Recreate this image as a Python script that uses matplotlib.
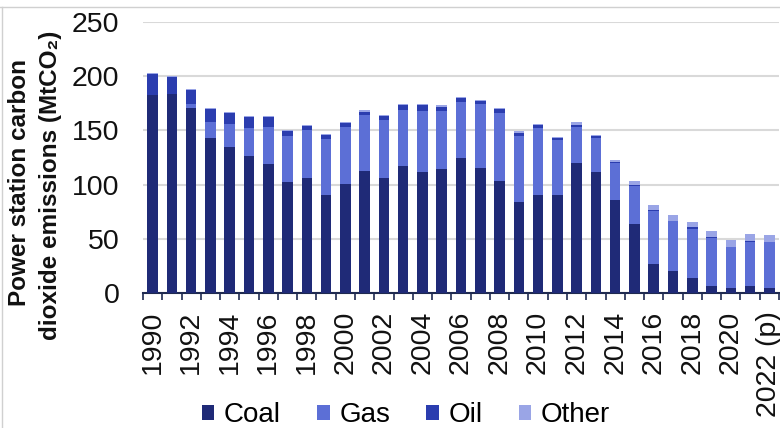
import matplotlib
matplotlib.use("Agg")
import matplotlib.pyplot as plt
import numpy as np

plt.rcParams['font.family'] = ['Liberation Sans', 'DejaVu Sans']

years = [str(y) for y in range(1990, 2022)] + ["2022 (p)"]
coal = [183, 184, 171, 143, 135, 126, 119, 102, 106, 90, 101, 113, 106, 117, 112, 114,
        125, 115, 103, 84, 90, 90, 120, 112, 86, 64, 27, 20, 14, 6, 5, 6, 5]
gas = [0, 0, 3, 15, 21, 26, 34, 43, 44, 52, 52, 51, 54, 52, 56, 54,
       51, 59, 63, 61, 62, 51, 33, 31, 34, 35, 49, 46, 45.5, 45, 37, 41, 42]
oil = [19, 15, 13, 12, 10, 10, 9, 4, 4, 4, 4, 3, 3, 4, 5, 4,
       4, 3, 4, 3, 3, 2, 2, 1.5, 1, 1, 1, 0.6, 1, 1, 0.5, 1, 0.5]
other = [1, 1, 1, 1, 1, 1, 1, 1, 1, 1, 1, 2, 1, 1, 1, 1,
         1, 1, 1, 1, 1, 1, 3, 1.5, 2, 3, 4, 5, 5, 5, 6, 6, 6]

colors = {"Coal": "#1F2A77", "Gas": "#5C6FD6", "Oil": "#2B3DAF", "Other": "#9AA5E6"}

fig = plt.figure(figsize=(7.8, 4.28), dpi=100)
ax = fig.add_axes([143/780, 1 - 293/428, (779-143)/780, (293-22)/428])

x = np.arange(len(years))
w = 0.55
bottom = np.zeros(len(years))
for name, vals in [("Coal", coal), ("Gas", gas), ("Oil", oil), ("Other", other)]:
    v = np.array(vals, dtype=float)
    ax.bar(x, v, w, bottom=bottom, color=colors[name], label=name, zorder=3)
    bottom += v

ax.set_xlim(-0.5, len(years) - 0.5)
ax.set_ylim(0, 250)
ax.set_yticks([0, 50, 100, 150, 200, 250])
ax.yaxis.grid(True, color="#D9D9D9", linewidth=1.5, zorder=0)
ax.set_axisbelow(True)

for s in ["top", "right", "left"]:
    ax.spines[s].set_visible(False)
ax.spines["bottom"].set_color("#1F2A50")
ax.spines["bottom"].set_linewidth(1.5)

ax.set_xticks(x[::2])
ax.set_xticklabels(years[::2], rotation=90, fontsize=20.5, color="#111111")
ax.set_xticks(np.arange(-0.5, len(years)), minor=True)
ax.tick_params(axis="x", which="major", length=0, pad=13)
ax.tick_params(axis="x", which="minor", length=5, width=1.2, color="#1F2A50")
ax.tick_params(axis="y", labelsize=20.5, length=0, pad=17, labelcolor="#111111")

fig.text(20/780, 1 - 183/428, "Power station carbon", rotation=90, fontsize=17.5,
         fontweight="bold", ha="center", va="center", color="#111111")
fig.text(51/780, 1 - 185/428, "dioxide emissions (MtCO₂)", rotation=90, fontsize=17.5,
         fontweight="bold", ha="center", va="center", color="#111111")

handles, labels = ax.get_legend_handles_labels()
fig.legend(handles, labels, loc="center", bbox_to_anchor=(406/780, 1 - 415/428), ncol=4,
           frameon=False, fontsize=20, handlelength=0.45, handleheight=0.45,
           handletextpad=0.35, columnspacing=1.3, borderpad=0, borderaxespad=0)

fig.add_artist(plt.Line2D([0, 1], [1 - 7/428, 1 - 7/428], color="#D0D0D0", linewidth=1,
                          transform=fig.transFigure))
fig.add_artist(plt.Line2D([1.5/780, 1.5/780], [0, 1 - 7/428], color="#D0D0D0", linewidth=1,
                          transform=fig.transFigure))

fig.savefig("out.png", dpi=100)
